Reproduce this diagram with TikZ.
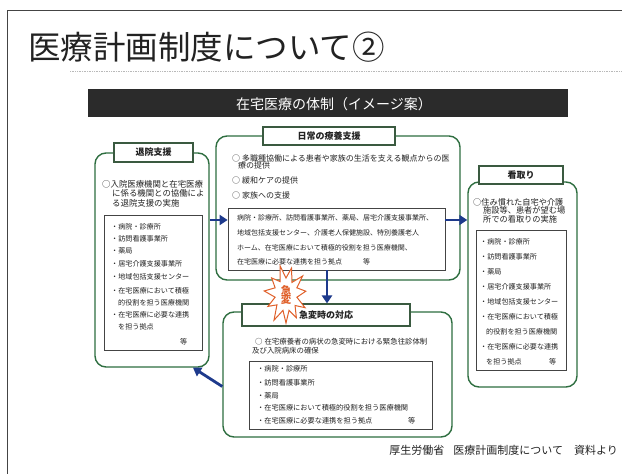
\documentclass[tikz,border=0pt]{standalone}
\usepackage{fontspec}
\setmainfont{Noto Sans CJK JP}
\usetikzlibrary{arrows.meta,calc}
\definecolor{boxgreen}{HTML}{2E6E40}
\definecolor{tabgreen}{HTML}{3A5A40}
\definecolor{innergray}{HTML}{444444}
\definecolor{navyarr}{HTML}{1E3A8C}
\definecolor{hdrgray}{HTML}{2B2B2B}
\definecolor{txtgray}{HTML}{222222}
\definecolor{burstred}{HTML}{E0602A}
\newcommand\myfs[1]{\fontsize{#1}{#1}\selectfont}
\begin{document}
\begin{tikzpicture}[x=1pt,y=-1pt,
  bigbox/.style={draw=boxgreen,line width=1.4pt,rounded corners=11pt,inner sep=0},
  tabbox/.style={draw=tabgreen,line width=1.1pt,fill=white,inner sep=0,font=\bfseries\myfs{9},text=txtgray},
  innerbox/.style={draw=innergray,line width=0.7pt,inner sep=0},
  txt/.style={anchor=west,inner sep=0,text=txtgray,font=\myfs{8.2}},
  itm/.style={anchor=west,inner sep=0,text=txtgray,font=\myfs{7.1}},
  btxt/.style={anchor=west,inner sep=0,text=txtgray,font=\myfs{7.4}},
  arr/.style={draw=navyarr,line width=2.8pt,-{Triangle[length=8pt,width=10pt]}},
  burststyle/.style={draw=burstred,fill=white,line width=1pt,line join=miter}
]
\useasboundingbox (0,0) rectangle (622,474);
\fill[white] (0,0) rectangle (622,474);
% frame
\coordinate (fa) at (7,474);
\coordinate (fb) at (7,10);
\coordinate (fc) at (622,10);
\draw[innergray,line width=1pt] (fa) -- (fb) -- (fc);
% title
\node[anchor=west,inner sep=0,text=txtgray,font=\myfs{32.5}] (title) at (28,47) {医療計画制度について②};
\coordinate (dl1) at (70,71);
\coordinate (dl2) at (622,71);
\draw[gray!55,densely dotted,line width=0.7pt] (dl1) -- (dl2);
% header bar
\node[fill=hdrgray,minimum width=480pt,minimum height=28pt,inner sep=0] (hdr) at (328,103) {};
\node[inner sep=0,text=white,font=\myfs{14}] (hdrtxt) at (334,104) {在宅医療の体制（イメージ案）};

% left box
\node[bigbox,minimum width=114pt,minimum height=214pt] (lb) at (152,260) {};
\node[tabbox,minimum width=79pt,minimum height=19pt] (lt) at (153.5,152.5) {退院支援};
\node[innerbox,minimum width=98pt,minimum height=135pt] (li) at (153,282.5) {};
\node[txt,font=\myfs{8.4}] (l1) at (102,184) {○入院医療機関と在宅医療};
\node[txt,font=\myfs{8.4}] (l2) at (112,193.5) {に係る機関との協働によ};
\node[txt,font=\myfs{8.4}] (l3) at (112,203) {る退院支援の実施};
\foreach \xx/\yy/\t [count=\i] in {111/227/・病院・診療所, 111/239/・訪問看護事業所, 111/251/・薬局, 111/264/・居宅介護支援事業所, 111/277/・地域包括支援センター, 111/291/・在宅医療において積極, 118/303/的役割を担う医療機関, 111/315/・在宅医療に必要な連携, 118/327/を担う拠点, 180/342/等}
  \node[itm] (li\i) at (\xx,\yy) {\t};

% center box
\node[bigbox,minimum width=244pt,minimum height=144pt] (cb) at (338,208) {};
\node[tabbox,minimum width=132pt,minimum height=18pt] (ct) at (329,136) {日常の療養支援};
\node[innerbox,minimum width=217pt,minimum height=62pt] (ci) at (336.5,239) {};
\node[txt,font=\myfs{8}] (c1) at (232,158) {○\kern2pt多職種協働による患者や家族の生活を支える観点からの医};
\node[txt,font=\myfs{8}] (c2) at (238,165.5) {療の提供};
\node[txt,font=\myfs{8}] (c3) at (232,180) {○\kern2pt緩和ケアの提供};
\node[txt,font=\myfs{8}] (c4) at (232,195) {○\kern2pt家族への支援};
\foreach \xx/\yy/\t [count=\i] in {237/218/病院・診療所、訪問看護事業所、薬局、居宅介護支援事業所、, 237/233/地域包括支援センター、介護老人保健施設、特別養護老人, 237/248/ホーム、在宅医療において積極的役割を担う医療機関、, 237/262/在宅医療に必要な連携を担う拠点, 363/262/等}
  \node[itm,font=\myfs{7}] (ci\i) at (\xx,\yy) {\t};

% right box
\node[bigbox,minimum width=109pt,minimum height=205pt] (rb) at (522.5,284.5) {};
\node[tabbox,minimum width=84pt,minimum height=18pt] (rt) at (521,175) {看取り};
\node[innerbox,minimum width=90pt,minimum height=140pt] (ri) at (521,300) {};
\node[txt] (r1) at (473,202) {○住み慣れた自宅や介護};
\node[txt] (r2) at (483,210.5) {施設等、患者が望む場};
\node[txt] (r3) at (483,219) {所での看取りの実施};
\foreach \xx/\yy/\t [count=\i] in {480/242/・病院・診療所, 480/257/・訪問看護事業所, 480/272/・薬局, 480/287/・居宅介護支援事業所, 480/302/・地域包括支援センター, 480/317/・在宅医療において積極, 486/332/的役割を担う医療機関, 480/347/・在宅医療に必要な連携, 486/362/を担う拠点, 549/362/等}
  \node[itm] (ri\i) at (\xx,\yy) {\t};

% bottom box
\node[bigbox,minimum width=229pt,minimum height=125pt] (bb) at (337.5,374.5) {};
\node[tabbox,minimum width=168pt,minimum height=22pt] (bt) at (326,315) {急変時の対応};
\node[innerbox,minimum width=183pt,minimum height=68pt] (bi) at (340.5,395) {};
\node[btxt] (b1) at (255,341.5) {○\kern2pt在宅療養者の病状の急変時における緊急往診体制};
\node[btxt] (b2) at (252,351) {及び入院病床の確保};
\foreach \xx/\yy/\t [count=\i] in {257/369/・病院・診療所, 257/383/・訪問看護事業所, 257/396/・薬局, 257/408/・在宅医療において積極的役割を担う医療機関, 257/421/・在宅医療に必要な連携を担う拠点, 408/421/等}
  \node[btxt,font=\myfs{7.2}] (bi\i) at (\xx,\yy) {\t};

% arrows
\coordinate (yarr) at (0,220);
\coordinate (xdown) at (327,0);
\coordinate (dlt) at (193,0);
\draw[arr] (lb.east |- yarr) -- (ci.west |- yarr);
\draw[arr] (ci.east |- yarr) -- (rb.west |- yarr);
\draw[arr] (ci.south -| xdown) -- (bt.north -| xdown);
\draw[arr] ([yshift=-12pt]bb.west) -- (lb.south -| dlt);

% burst
\coordinate (bc) at (286,295);
\draw[burststyle] ($(bc)+(0,28)$)
  \foreach \a/\rx/\ry in {106/11/16, 123/22/30, 139/12/15, 155/20/27, 172/11/16, 188/22/29, 205/12/17, 221/19/26, 237/11/16, 254/21/30, 270/12/17, 286/20/28, 303/11/15, 319/22/29, 335/12/17, 352/20/27, 8/11/16, 25/21/30, 41/12/16, 57/19/27, 74/11/16} { -- ($(bc)+({\rx*cos(\a)},{\ry*sin(\a)})$) } -- cycle;
\node[inner sep=0,text=burstred,font=\bfseries\myfs{10.5},align=center] (bursttxt) at (bc) {急\\[-1pt]変};

% footer
\node[anchor=east,inner sep=0,text=txtgray,font=\myfs{11}] (foot) at (618,450) {厚生労働省\hspace{9pt}医療計画制度について\hspace{11pt}資料より};
\end{tikzpicture}
\end{document}
